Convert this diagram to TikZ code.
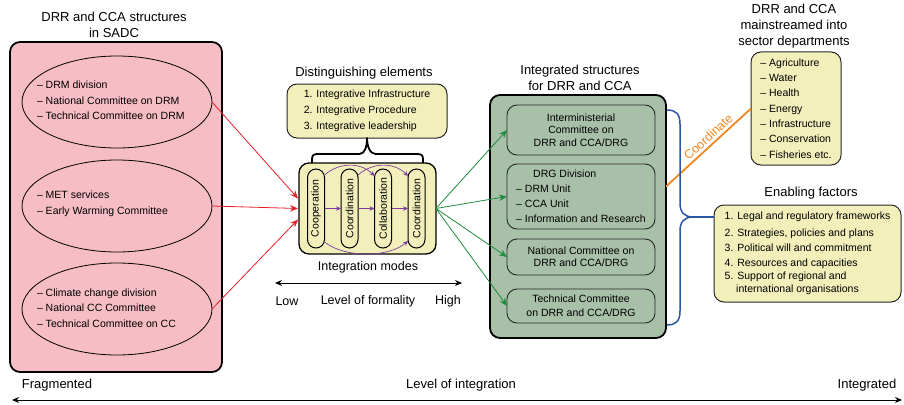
\documentclass[tikz,border=0pt]{standalone}
\usepackage{fontspec}
\setmainfont{Liberation Sans}
\usetikzlibrary{arrows.meta,calc,shapes.geometric}

\definecolor{pinkfill}{RGB}{247,189,196}
\definecolor{creamfill}{RGB}{242,239,187}
\definecolor{sagefill}{RGB}{168,192,168}
\definecolor{linkred}{RGB}{232,30,40}
\definecolor{linkgreen}{RGB}{30,140,60}
\definecolor{modepurple}{RGB}{125,60,160}
\definecolor{coordorange}{RGB}{240,135,30}
\definecolor{braceblue}{RGB}{45,85,165}

\begin{document}
\begin{tikzpicture}[x=1pt,y=-1pt,
  every node/.style={inner sep=0pt, outer sep=0pt},
  title/.style={font=\fontsize{13}{16}\selectfont, align=center},
  item/.style={font=\fontsize{10.5}{15.5}\selectfont, align=left},
  panel/.style={draw=black, line width=1.8pt, rounded corners=10pt},
  notebox/.style={draw=black!85, line width=1pt, fill=creamfill, rounded corners=10pt,
                  font=\fontsize{10.5}{15.5}\selectfont, align=left},
  unitbox/.style={draw=black!85, line width=0.9pt, rounded corners=10pt,
                  font=\fontsize{10.5}{12.5}\selectfont, align=center},
  group/.style={ellipse, draw=black, line width=0.8pt, minimum width=190, minimum height=92},
  pill/.style={draw=black, line width=1pt, rounded corners=8.5pt, minimum width=17,
               minimum height=79, font=\fontsize{10.5}{12}\selectfont},
  redlink/.style={draw=linkred, line width=0.8pt, -{Stealth[length=8pt,width=6.5pt]}},
  greenlink/.style={draw=linkgreen, line width=0.8pt, -{Stealth[length=8pt,width=6.5pt]}},
  modelink/.style={draw=modepurple, line width=0.7pt, -{Stealth[length=5pt,width=4.5pt]}},
  axis/.style={draw=black, line width=1pt,
               {Stealth[length=7pt,width=6pt]}-{Stealth[length=7pt,width=6pt]}}
]
\useasboundingbox (0,0) rectangle (904,404);

% ---------- fragmented structures ----------
\node[title] at (114,25) {DRR and CCA structures\\in SADC};
\node[panel, fill=pinkfill, minimum width=212, minimum height=330] (sadc) at (116,207) {};

\node[group] (e1) at (117,102) {};
\node[group] (e2) at (117,206) {};
\node[group] (e3) at (117,309) {};

\node[item, anchor=west] at (37,100.5)
  {-- DRM division\\-- National Committee on DRM\\-- Technical Committee on DRM};
\node[item, anchor=west] at (37,204)
  {-- MET services\\-- Early Warming Committee};
\node[item, anchor=west] at (37,308)
  {-- Climate change division\\-- National CC Committee\\-- Technical Committee on CC};

% ---------- integration modes ----------
\node[title] at (364,73) {Distinguishing elements};
\node[notebox, minimum width=160, minimum height=54, font=\fontsize{10.5}{16}\selectfont]
  (dist) at (367,111)
  {1. Integrative Infrastructure\\2. Integrative Procedure\\3. Integrative leadership};

\node[draw=black, line width=1.3pt, fill=creamfill, rounded corners=10pt,
      minimum width=137, minimum height=91] (modes) at (367.5,208.5) {};

\node[pill] (p1) at (316,208.5) {\rotatebox{90}{Cooperation}};
\node[pill] (p2) at (349.5,208.5) {\rotatebox{90}{Coordination}};
\node[pill] (p3) at (383,208.5) {\rotatebox{90}{Collaboration}};
\node[pill] (p4) at (416.5,208.5) {\rotatebox{90}{Coordination}};

\draw[modelink] (p1.east) -- (p2.west);
\draw[modelink] (p2.east) -- (p3.west);
\draw[modelink] (p3.east) -- (p4.west);
\draw[modelink] ($(p1.north east)+(0,6)$) .. controls ($(p1.north east)+(15,-7)$)
  and ($(p3.north west)+(-14,-7)$) .. ($(p3.north west)+(0,7)$);
\draw[modelink] ($(p2.north east)+(0,6)$) .. controls ($(p2.north east)+(15,-7)$)
  and ($(p4.north west)+(-14,-7)$) .. ($(p4.north west)+(0,7)$);
\draw[modelink] ($(p1.south east)+(0,-6)$) .. controls ($(p1.south east)+(20,10)$)
  and ($(p4.south west)+(-20,10)$) .. ($(p4.south west)+(0,-7)$);

% brace joining the modes to their distinguishing elements
\draw[line width=1.8pt, line join=round]
  ($(modes.north)+(-55.5,0)$) -- ($(modes.north)+(-55.5,-4)$)
  .. controls ($(modes.north)+(-55.5,-9)$) and ($(modes.north)+(-53,-9)$) .. ($(modes.north)+(-47,-9)$)
  -- ($(modes.north)+(-8,-9)$)
  .. controls ($(modes.north)+(-2,-9)$) and ($(dist.south)+(0,7)$) .. (dist.south)
  .. controls ($(dist.south)+(0,7)$) and ($(modes.north)+(2,-9)$) .. ($(modes.north)+(8,-9)$)
  -- ($(modes.north)+(47,-9)$)
  .. controls ($(modes.north)+(53,-9)$) and ($(modes.north)+(55.5,-9)$) .. ($(modes.north)+(55.5,-4)$)
  -- ($(modes.north)+(55.5,0)$);

\node[title, font=\fontsize{12.5}{15}\selectfont] at (368,267) {Integration modes};
\coordinate (lowend) at (275,283);
\coordinate (highend) at (462,283);
\draw[axis] (lowend) -- (highend);
\node[title, font=\fontsize{12.5}{15}\selectfont] at (287,301) {Low};
\node[title, font=\fontsize{12.5}{15}\selectfont] at (368,301) {Level of formality};
\node[title, font=\fontsize{12.5}{15}\selectfont] at (448,301) {High};

\draw[redlink] (e1.east) -- ($(modes.west)+(-1,-10)$);
\draw[redlink] (e2.east) -- ($(modes.west)+(-1,0)$);
\draw[redlink] (e3.east) -- ($(modes.west)+(-1,11)$);

% ---------- integrated structures ----------
\node[title] at (580,77.5) {Integrated structures\\for DRR and CCA};
\node[panel, fill=sagefill, minimum width=176, minimum height=243] (green) at (578,216.5) {};

\node[unitbox, minimum width=148, minimum height=50] (b1) at (581,130)
  {Interministerial\\Committee on\\DRR and CCA/DRG};
\node[unitbox, minimum width=148, minimum height=65, align=left,
      font=\fontsize{10.5}{15}\selectfont] (b2) at (581,196.5)
  {\hspace*{17pt}DRG Division\\-- DRM Unit\\-- CCA Unit\\-- Information and Research};
\node[unitbox, minimum width=148, minimum height=36, font=\fontsize{10.5}{12}\selectfont]
  (b3) at (581,257) {National Committee on\\DRR and CCA/DRG};
\node[unitbox, minimum width=148, minimum height=34, font=\fontsize{10.5}{14}\selectfont]
  (b4) at (581,306) {Technical Committee\\on DRR and CCA/DRG};

\draw[greenlink] (modes.east) -- (b1.west);
\draw[greenlink] (modes.east) -- (b2.west);
\draw[greenlink] (modes.east) -- (b3.west);
\draw[greenlink] (modes.east) -- (b4.west);

% ---------- sector departments ----------
\node[title] at (794,26) {DRR and CCA\\mainstreamed into\\sector departments};
\node[notebox, minimum width=90, minimum height=113, font=\fontsize{10.5}{15.33}\selectfont]
  (sector) at (796,108.5)
  {-- Agriculture\\-- Water\\-- Health\\-- Energy\\-- Infrastructure\\-- Conservation\\-- Fisheries etc.};

\draw[draw=coordorange, line width=1.8pt] ($(green.east)+(0,-30)$) --
  node[pos=0.56, sloped, above=3.5pt, text=coordorange, font=\fontsize{12.5}{15}\selectfont]
  {Coordinate} (sector.west);

% ---------- enabling factors ----------
\node[title] at (811,193) {Enabling factors};
\node[notebox, minimum width=187, minimum height=97, font=\fontsize{10.5}{13}\selectfont]
  (enab) at (807.5,253.5)
  {1. Legal and regulatory frameworks\\[4pt]2. Strategies, policies and plans\\[2pt]
   3. Political will and commitment\\[2pt]4. Resources and capacities\\
   5. Support of regional and\\\hspace*{11.5pt}international organisations};

\coordinate (tip) at (693,217);
\draw[draw=braceblue, line width=1.5pt, line join=round]
  ($(green.north east)+(1,15)$) .. controls ($(green.north east)+(10,15)$)
  and (680,114) .. (680,124) -- (680,203)
  .. controls (680,212) and (684,217) .. (tip)
  .. controls (684,217) and (680,222) .. (680,231) -- (680,311)
  .. controls (680,321) and ($(green.south east)+(10,-13)$) .. ($(green.south east)+(1,-13)$);
\draw[draw=braceblue, line width=1.5pt] (tip) -- (enab.west |- tip);

% ---------- overall axis ----------
\node[title] at (57,385) {Fragmented};
\node[title] at (461,385) {Level of integration};
\node[title] at (867,385) {Integrated};
\coordinate (axisL) at (12,400);
\coordinate (axisR) at (902,400);
\draw[axis] (axisL) -- (axisR);
\end{tikzpicture}
\end{document}
